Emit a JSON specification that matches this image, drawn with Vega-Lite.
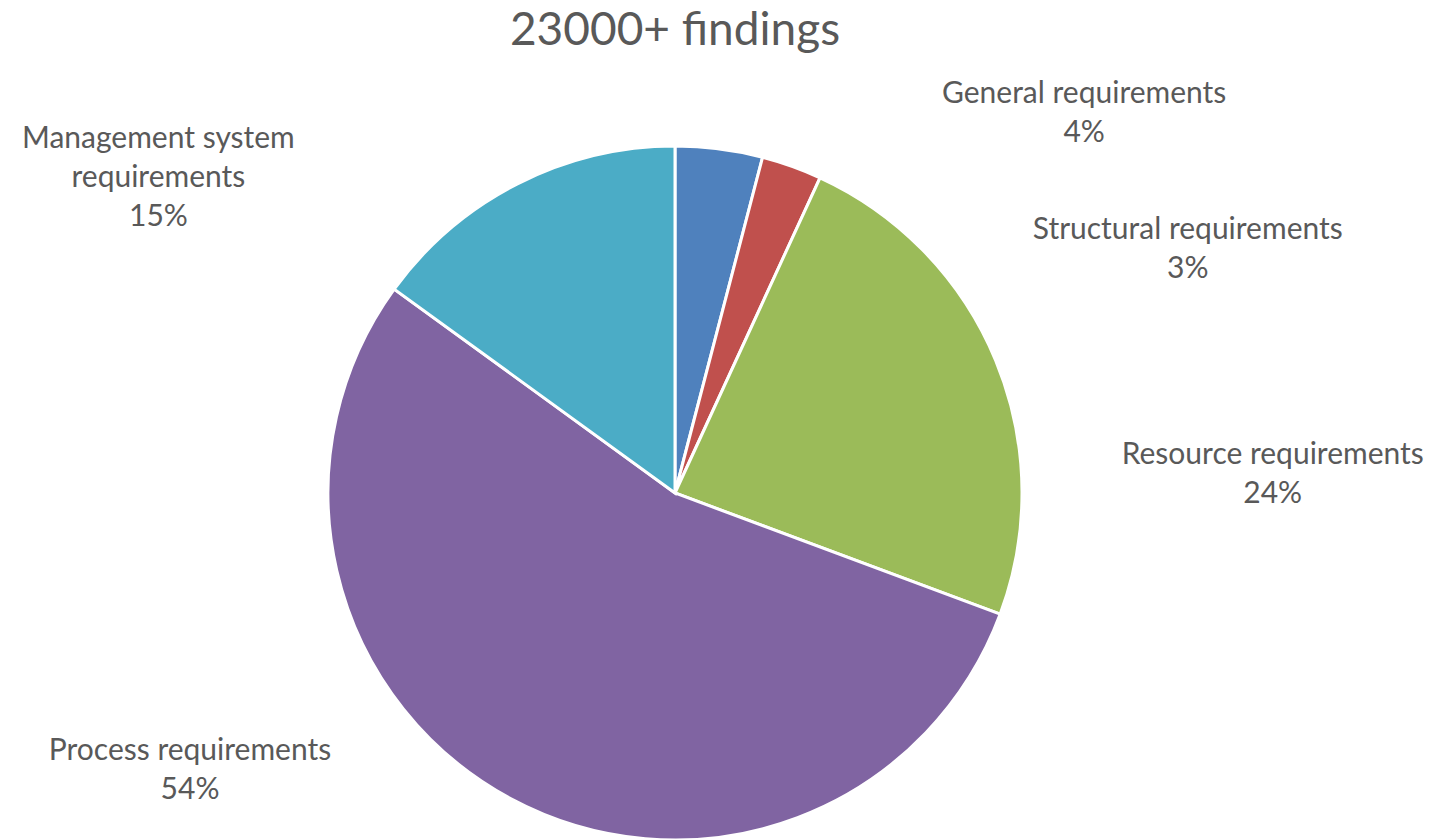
{
  "$schema": "https://vega.github.io/schema/vega-lite/v6.json",
  "autosize": {"type": "none"},
  "padding": {"top": 146, "left": 0, "right": 83, "bottom": 0},
  "width": 1350,
  "height": 694,
  "background": "white",
  "title": {"text": "23000+ findings", "font": "Lato", "fontSize": 46, "fontWeight": "normal", "color": "#595959", "offset": 24, "anchor": "middle", "frame": "group"},
  "data": {"values": [
    {"category": "General requirements", "value": 4.06, "label": "General requirements\n4%"},
    {"category": "Structural requirements", "value": 2.8, "label": "Structural requirements\n3%"},
    {"category": "Resource requirements", "value": 23.8, "label": "Resource requirements\n24%"},
    {"category": "Process requirements", "value": 54.3, "label": "Process requirements\n54%"},
    {"category": "Management system requirements", "value": 15.0, "label": "Management system\nrequirements\n15%"}
  ]},
  "transform": [{"window": [{"op": "row_number", "as": "idx"}]}],
  "encoding": {
    "theta": {"field": "value", "type": "quantitative", "stack": true},
    "order": {"field": "idx", "type": "quantitative"},
    "detail": {"field": "category", "type": "nominal"}
  },
  "layer": [
    {
      "mark": {"type": "arc", "outerRadius": 347, "stroke": "white", "strokeWidth": 3},
      "encoding": {
        "color": {"field": "category", "type": "nominal", "legend": null,
          "scale": {"domain": ["General requirements", "Structural requirements", "Resource requirements", "Process requirements", "Management system requirements"],
                    "range": ["#4F81BD", "#C0504D", "#9BBB59", "#8064A2", "#4BACC6"]}}
      }
    },
    {
      "mark": {"type": "text", "radius": 347, "dx": 365, "dy": -55, "font": "Lato", "fontSize": 30, "lineHeight": 39, "lineBreak": "\n", "align": "center", "baseline": "middle", "fill": "#595959"},
      "encoding": {"text": {"condition": {"test": "datum.category === 'General requirements'", "field": "label", "type": "nominal"}, "value": ""}}
    },
    {
      "mark": {"type": "text", "radius": 347, "dx": 396, "dy": 64, "font": "Lato", "fontSize": 30, "lineHeight": 39, "lineBreak": "\n", "align": "center", "baseline": "middle", "fill": "#595959"},
      "encoding": {"text": {"condition": {"test": "datum.category === 'Structural requirements'", "field": "label", "type": "nominal"}, "value": ""}}
    },
    {
      "mark": {"type": "text", "radius": 347, "dx": 277, "dy": 94, "font": "Lato", "fontSize": 30, "lineHeight": 39, "lineBreak": "\n", "align": "center", "baseline": "middle", "fill": "#595959"},
      "encoding": {"text": {"condition": {"test": "datum.category === 'Resource requirements'", "field": "label", "type": "nominal"}, "value": ""}}
    },
    {
      "mark": {"type": "text", "radius": 347, "dx": -321, "dy": -48, "font": "Lato", "fontSize": 30, "lineHeight": 39, "lineBreak": "\n", "align": "center", "baseline": "middle", "fill": "#595959"},
      "encoding": {"text": {"condition": {"test": "datum.category === 'Process requirements'", "field": "label", "type": "nominal"}, "value": ""}}
    },
    {
      "mark": {"type": "text", "radius": 347, "dx": -359, "dy": -45, "font": "Lato", "fontSize": 30, "lineHeight": 39, "lineBreak": "\n", "align": "center", "baseline": "middle", "fill": "#595959"},
      "encoding": {"text": {"condition": {"test": "datum.category === 'Management system requirements'", "field": "label", "type": "nominal"}, "value": ""}}
    }
  ],
  "config": {"view": {"stroke": null}}
}
